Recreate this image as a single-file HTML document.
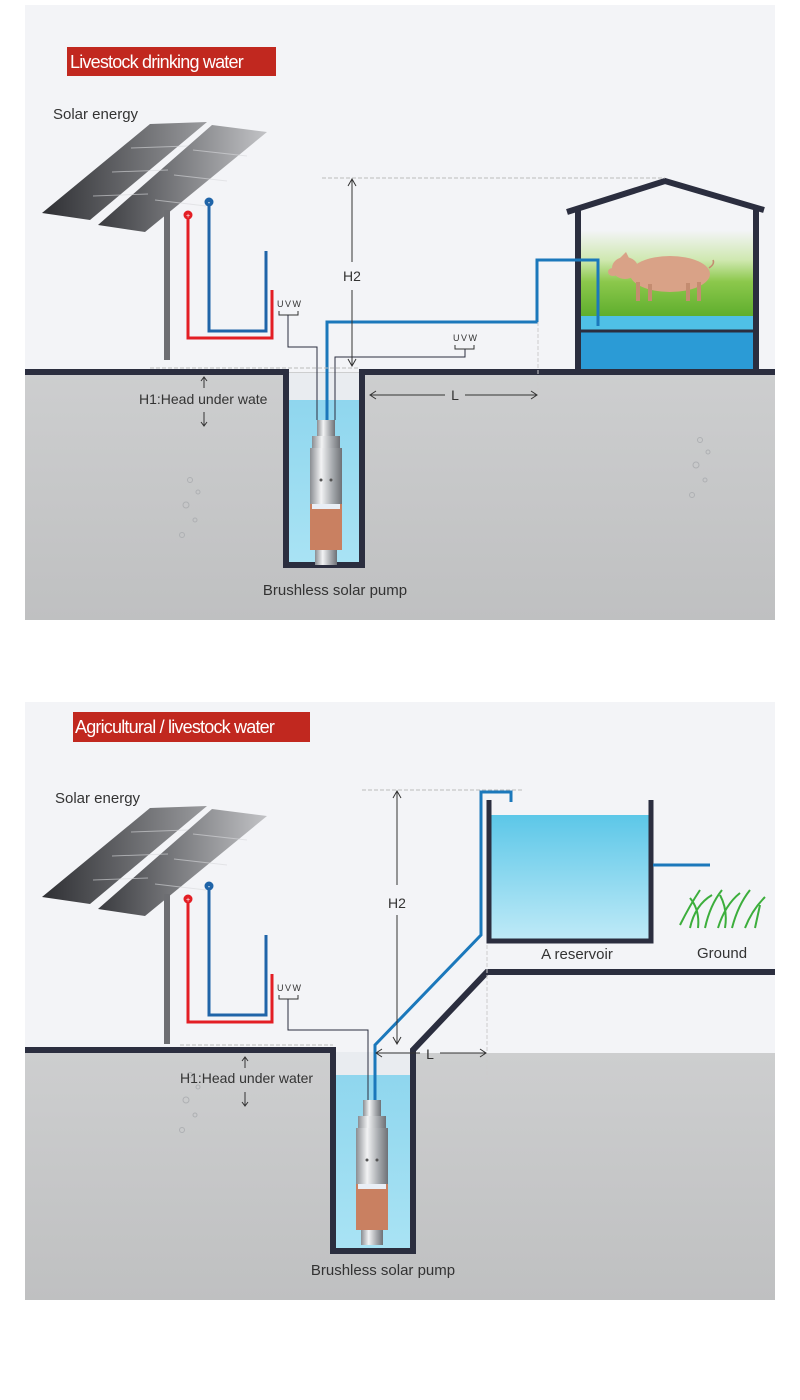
<!DOCTYPE html>
<html><head><meta charset="utf-8"><style>
html,body{margin:0;padding:0;background:#fff;}
svg{display:block;font-family:"Liberation Sans",sans-serif;}
</style></head><body>
<svg width="800" height="1400" viewBox="0 0 800 1400" xmlns="http://www.w3.org/2000/svg">
<defs>
<linearGradient id="gnd" x1="0" y1="0" x2="0" y2="1"><stop offset="0" stop-color="#cdcecf"/><stop offset="1" stop-color="#bfc0c1"/></linearGradient>
<linearGradient id="wat" x1="0" y1="0" x2="0" y2="1"><stop offset="0" stop-color="#8fd6ee"/><stop offset="1" stop-color="#a9e3f4"/></linearGradient>
<linearGradient id="res" x1="0" y1="0" x2="0" y2="1"><stop offset="0" stop-color="#5cc7e8"/><stop offset="1" stop-color="#bfeaf7"/></linearGradient>
<linearGradient id="pnl" x1="0" y1="0" x2="1" y2="0"><stop offset="0" stop-color="#2e2f33"/><stop offset="1" stop-color="#9a9b9e"/></linearGradient>
<linearGradient id="pnl2" x1="0" y1="0" x2="1" y2="0"><stop offset="0" stop-color="#3a3b3f"/><stop offset="1" stop-color="#c2c3c6"/></linearGradient>
<linearGradient id="steel" x1="0" y1="0" x2="1" y2="0"><stop offset="0" stop-color="#8a8d92"/><stop offset=".35" stop-color="#f2f3f4"/><stop offset=".7" stop-color="#a7aaae"/><stop offset="1" stop-color="#6e7176"/></linearGradient>
<linearGradient id="hill" x1="0" y1="0" x2="0" y2="1"><stop offset="0" stop-color="#f3f4f7"/><stop offset=".35" stop-color="#cfe8b0"/><stop offset=".6" stop-color="#8cc84c"/><stop offset="1" stop-color="#5fae2d"/></linearGradient>
<g id="solar">
<polygon points="150,124 207,122 90,220 42,213" fill="url(#pnl)"/>
<polygon points="212,125 267,132 145,232 98,225" fill="url(#pnl2)"/>
<g stroke="#d8d9dc" stroke-width="1" opacity=".6">
<line x1="131" y1="148" x2="188" y2="146"/><line x1="112" y1="172" x2="168" y2="170"/><line x1="93" y1="196" x2="148" y2="194"/>
<line x1="193" y1="150" x2="247" y2="156"/><line x1="174" y1="175" x2="227" y2="181"/><line x1="155" y1="200" x2="206" y2="206"/>
</g>
<rect x="164" y="210" width="6" height="150" fill="#6d6e72"/>
<polyline points="188,215 188,338 272,338 272,290" fill="none" stroke="#e31e24" stroke-width="3"/>
<polyline points="209,202 209,331 266,331 266,251" fill="none" stroke="#1f64a8" stroke-width="3"/>
<circle cx="188" cy="215" r="4.5" fill="#e31e24"/><circle cx="209" cy="202" r="4.5" fill="#1f64a8"/>
<text x="188" y="218" font-size="7" fill="#fff" text-anchor="middle">+</text>
<text x="209" y="205" font-size="8" fill="#fff" text-anchor="middle">-</text>
<text x="277" y="307" font-size="9" fill="#333" letter-spacing="1.5">UVW</text>
<polyline points="279,311 279,315 298,315 298,311" fill="none" stroke="#333" stroke-width="1"/>
</g>
<g id="pump">
<rect x="-9" y="0" width="18" height="18" fill="url(#steel)"/>
<rect x="-14" y="16" width="28" height="14" fill="url(#steel)"/>
<rect x="-16" y="28" width="32" height="84" fill="url(#steel)"/>
<rect x="-16" y="84" width="32" height="46" fill="#c98061"/>
<rect x="-14" y="84" width="28" height="5" fill="#e9eef5"/>
<rect x="-11" y="130" width="22" height="15" fill="url(#steel)"/>
<circle cx="-5" cy="60" r="1.5" fill="#555"/><circle cx="5" cy="60" r="1.5" fill="#555"/>
</g>
<g id="bub" fill="none" stroke="#aeb0b3" stroke-width="1">
<circle cx="0" cy="0" r="2.5"/><circle cx="8" cy="12" r="2"/><circle cx="-4" cy="25" r="3"/><circle cx="5" cy="40" r="2"/><circle cx="-8" cy="55" r="2.5"/>
</g>
</defs>

<!-- PANEL 1 -->
<rect x="25" y="5" width="750" height="615" fill="#f3f4f7"/>
<rect x="25" y="372" width="750" height="248" fill="url(#gnd)"/>
<use href="#bub" transform="translate(190,480)"/>
<use href="#bub" transform="translate(700,440)"/>
<rect x="286" y="373" width="76" height="190" fill="#e9ecf0"/>
<rect x="286" y="400" width="76" height="163" fill="url(#wat)"/>
<path d="M25,372 H286 V565 H362 V372 H775" fill="none" stroke="#2b2e3f" stroke-width="6"/>
<rect x="67" y="47" width="209" height="29" fill="#c1281f"/>
<text x="70" y="68" font-size="18" fill="#fff" letter-spacing="-0.8">Livestock drinking water</text>
<text x="53" y="119" font-size="15" fill="#333">Solar energy</text>
<use href="#solar"/>
<polyline points="288,315 288,347 317,347 317,420" fill="none" stroke="#2b2e3f" stroke-width="1"/>
<text x="453" y="341" font-size="9" fill="#333" letter-spacing="1.5">UVW</text>
<polyline points="455,345 455,349 474,349 474,345" fill="none" stroke="#333" stroke-width="1"/>
<polyline points="465,349 465,357 335,357 335,420" fill="none" stroke="#2b2e3f" stroke-width="1"/>
<!-- house -->
<rect x="581" y="230" width="172" height="86" fill="url(#hill)"/>
<rect x="581" y="316" width="172" height="14" fill="#4fc0e6"/>
<rect x="581" y="332" width="172" height="37" fill="#2b9bd6"/>
<line x1="581" y1="331" x2="753" y2="331" stroke="#2b2e3f" stroke-width="3"/>
<polyline points="567,212 665,181 764,210" fill="none" stroke="#2b2e3f" stroke-width="6"/>
<line x1="578" y1="208" x2="578" y2="372" stroke="#2b2e3f" stroke-width="6"/>
<line x1="756" y1="208" x2="756" y2="372" stroke="#2b2e3f" stroke-width="6"/>
<g fill="#d9a287">
<ellipse cx="670" cy="274" rx="40" ry="18"/>
<ellipse cx="625" cy="268" rx="13" ry="11"/>
<ellipse cx="613" cy="272" rx="5" ry="4"/>
<polygon points="620,258 626,252 630,260"/>
<rect x="636" y="282" width="4" height="19" fill="#c48c70"/><rect x="648" y="284" width="4" height="17" fill="#c48c70"/>
<rect x="686" y="283" width="4" height="18" fill="#c48c70"/><rect x="697" y="282" width="4" height="19" fill="#c48c70"/>
</g>
<path d="M709,268 q6,-4 4,-8" fill="none" stroke="#c48c70" stroke-width="1.5"/>
<!-- pipe -->
<polyline points="327,420 327,322 537,322 537,260 598,260 598,326" fill="none" stroke="#1b78bb" stroke-width="3"/>
<!-- dims -->
<line x1="322" y1="178" x2="665" y2="178" stroke="#bbb" stroke-dasharray="4,2"/>
<line x1="150" y1="368" x2="360" y2="368" stroke="#bbb" stroke-dasharray="4,2"/>
<line x1="538" y1="322" x2="538" y2="400" stroke="#ccc" stroke-dasharray="4,2"/>
<line x1="352" y1="180" x2="352" y2="262" stroke="#333"/><line x1="352" y1="290" x2="352" y2="365" stroke="#333"/>
<path d="M348,186 L352,179 L356,186 M348,359 L352,366 L356,359" fill="none" stroke="#333"/>
<text x="352" y="281" font-size="14" fill="#333" text-anchor="middle">H2</text>
<line x1="370" y1="395" x2="445" y2="395" stroke="#333"/><line x1="465" y1="395" x2="537" y2="395" stroke="#333"/>
<path d="M376,391 L370,395 L376,399 M531,391 L537,395 L531,399" fill="none" stroke="#333"/>
<text x="455" y="400" font-size="14" fill="#333" text-anchor="middle">L</text>
<line x1="204" y1="377" x2="204" y2="388" stroke="#333"/><line x1="204" y1="412" x2="204" y2="426" stroke="#333"/>
<path d="M201,381 L204,377 L207,381 M201,422 L204,426 L207,422" fill="none" stroke="#333"/>
<text x="139" y="404" font-size="14" fill="#333">H1:Head under wate</text>
<use href="#pump" transform="translate(326,420)"/>
<text x="335" y="595" font-size="15" fill="#333" text-anchor="middle">Brushless solar pump</text>

<!-- PANEL 2 -->
<rect x="25" y="702" width="750" height="598" fill="#f3f4f7"/>
<rect x="25" y="1053" width="750" height="247" fill="url(#gnd)"/>
<use href="#bub" transform="translate(190,1075)"/>
<polygon points="417,1053 487,975 775,975 775,1053" fill="#f3f4f7"/>
<rect x="335" y="1052" width="76" height="198" fill="#e9ecf0"/>
<rect x="335" y="1075" width="76" height="175" fill="url(#wat)"/>
<path d="M25,1050 H333 V1251 H413 V1050 L487,972 H775" fill="none" stroke="#2b2e3f" stroke-width="6"/>
<rect x="73" y="712" width="237" height="30" fill="#c1281f"/>
<text x="75" y="733" font-size="18" fill="#fff" letter-spacing="-0.8">Agricultural / livestock water</text>
<text x="55" y="803" font-size="15" fill="#333">Solar energy</text>
<use href="#solar" transform="translate(0,684)"/>
<polyline points="288,999 288,1030 368,1030 368,1100" fill="none" stroke="#2b2e3f" stroke-width="1"/>
<!-- reservoir -->
<rect x="490" y="815" width="160" height="125" fill="url(#res)"/>
<path d="M489,800 V941 H651 V800" fill="none" stroke="#2b2e3f" stroke-width="5"/>
<line x1="653" y1="865" x2="710" y2="865" stroke="#1b78bb" stroke-width="3"/>
<g stroke="#3cae3c" stroke-width="2" fill="none">
<path d="M680,925 Q690,905 700,890 M690,928 Q695,905 712,895 M705,928 Q710,905 722,890 M718,928 Q725,905 740,893 M732,928 Q738,905 750,890 M745,928 Q752,910 765,897 M698,928 Q700,910 690,898 M725,928 Q728,910 720,895 M755,928 L760,905"/>
</g>
<text x="577" y="959" font-size="15" fill="#333" text-anchor="middle">A reservoir</text>
<text x="697" y="958" font-size="15" fill="#333">Ground</text>
<polyline points="375,1100 375,1045 481,935 481,792 511,792 511,802" fill="none" stroke="#1b78bb" stroke-width="3"/>
<line x1="362" y1="790" x2="522" y2="790" stroke="#bbb" stroke-dasharray="4,2"/>
<line x1="180" y1="1045" x2="333" y2="1045" stroke="#bbb" stroke-dasharray="4,2"/>
<line x1="487" y1="945" x2="487" y2="1080" stroke="#ccc" stroke-dasharray="4,2"/>
<line x1="397" y1="792" x2="397" y2="885" stroke="#333"/><line x1="397" y1="915" x2="397" y2="1043" stroke="#333"/>
<path d="M393,798 L397,791 L401,798 M393,1037 L397,1044 L401,1037" fill="none" stroke="#333"/>
<text x="397" y="908" font-size="14" fill="#333" text-anchor="middle">H2</text>
<line x1="376" y1="1053" x2="420" y2="1053" stroke="#333"/><line x1="440" y1="1053" x2="486" y2="1053" stroke="#333"/>
<path d="M382,1049 L376,1053 L382,1057 M480,1049 L486,1053 L480,1057" fill="none" stroke="#333"/>
<text x="430" y="1059" font-size="14" fill="#333" text-anchor="middle">L</text>
<line x1="245" y1="1057" x2="245" y2="1068" stroke="#333"/><line x1="245" y1="1092" x2="245" y2="1106" stroke="#333"/>
<path d="M242,1061 L245,1057 L248,1061 M242,1102 L245,1106 L248,1102" fill="none" stroke="#333"/>
<text x="180" y="1083" font-size="14" fill="#333">H1:Head under water</text>
<use href="#pump" transform="translate(372,1100)"/>
<text x="383" y="1275" font-size="15" fill="#333" text-anchor="middle">Brushless solar pump</text>
</svg>
</body></html>
